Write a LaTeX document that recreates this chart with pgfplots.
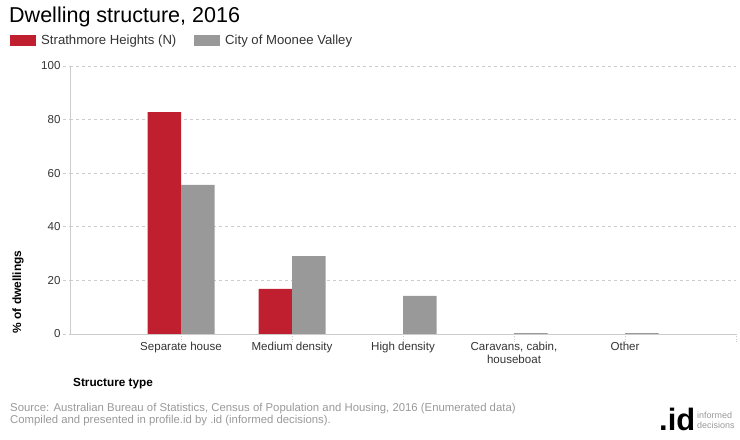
\documentclass[border=0pt]{standalone}
\usepackage{pgfplots}
\pgfplotsset{compat=1.18}
\usepackage{fontspec}
\setmainfont{Liberation Sans}
\definecolor{cred}{HTML}{C01F2F}
\definecolor{cgray}{HTML}{999999}
\definecolor{cgrid}{HTML}{CCCCCC}
\definecolor{ctext}{HTML}{333333}
\definecolor{csrc}{HTML}{999999}
\begin{document}
\begin{tikzpicture}[x=1bp,y=1bp]
\path[use as bounding box] (0,0) rectangle (740,440);
\begin{axis}[
  at={(70bp,106bp)}, anchor=south west,
  width=666bp, height=268bp, scale only axis,
  xmin=0, xmax=6, ymin=0, ymax=100,
  ybar=0pt, bar width=33.5bp,
  axis lines*=left,
  axis line style={draw=cgrid, line width=0.8bp},
  xtick={1,2,3,4,5,6},
  xticklabels={Separate house, Medium density, High density, {Caravans, cabin,\\houseboat}, Other, {}},
  xticklabel style={align=center, font=\fontsize{11.6}{13}\selectfont, text=ctext, yshift=2bp},
  x tick style={draw=cgrid, dotted, line width=0.8bp},
  ytick={0,20,40,60,80,100},
  yticklabel style={font=\fontsize{11.6}{13}\selectfont, text=ctext, xshift=1bp},
  y tick style={draw=cgrid, dashed, line width=0.8bp},
  tick align=outside, major tick length=7bp,
  ymajorgrids, grid style={draw=cgrid, dashed, line width=0.8bp},
  /pgf/number format/assume math mode=true,
  clip=false,
]
\addplot[fill=cred, draw=none] coordinates {(1,82.8) (2,16.8)};
\addplot[fill=cgray, draw=none] coordinates {(1,55.6) (2,29.1) (3,14.2) (4,0.3) (5,0.3)};
\end{axis}
% title
\node[anchor=base west, inner sep=0] at (9,417) {\fontsize{21.6}{24}\selectfont Dwelling structure, 2016};
% legend
\fill[cred] (10,394) rectangle (36,405);
\node[anchor=base west, inner sep=0] at (41,395) {\fontsize{13.2}{15}\selectfont\color{ctext} Strathmore Heights (N)};
\fill[cgray] (194,394) rectangle (220,405);
\node[anchor=base west, inner sep=0] at (225,395) {\fontsize{13.2}{15}\selectfont\color{ctext} City of Moonee Valley};
% y label
\node[rotate=90, inner sep=0] at (18,148) {\fontsize{12}{14}\selectfont\bfseries \% of dwellings};
% x label
\node[anchor=base west, inner sep=0] at (73,53) {\fontsize{11.8}{13}\selectfont\bfseries Structure type};
% source
\node[anchor=base west, inner sep=0] at (10,28.5) {\fontsize{11.4}{13}\selectfont\color{csrc} Source: Australian Bureau of Statistics, Census of Population and Housing, 2016 (Enumerated data)};
\node[anchor=base west, inner sep=0] at (10,16) {\fontsize{11.4}{13}\selectfont\color{csrc} Compiled and presented in profile.id by .id (informed decisions).};
% logo
\node[anchor=base west, inner sep=0] at (659,9) {\fontsize{31}{33}\selectfont\bfseries .id};
\node[anchor=base west, inner sep=0, align=left] at (697,21) {\fontsize{9}{10}\selectfont\color{csrc} informed};
\node[anchor=base west, inner sep=0, align=left] at (697,11) {\fontsize{9}{10}\selectfont\color{csrc} decisions};
\end{tikzpicture}
\end{document}
